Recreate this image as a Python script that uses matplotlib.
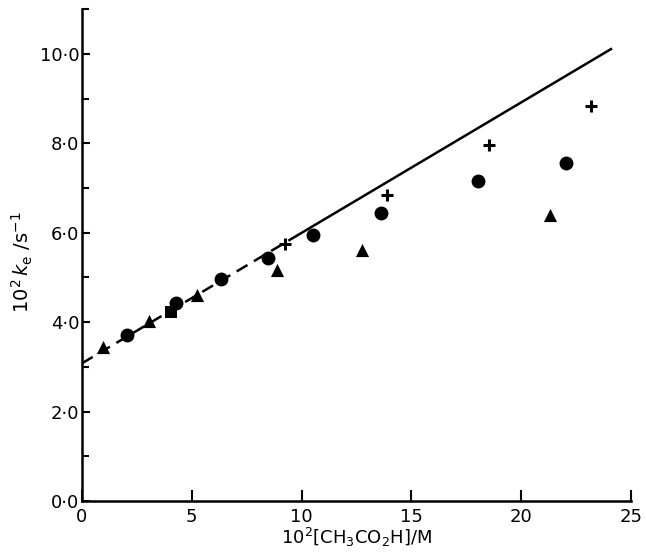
import numpy as np
import matplotlib
matplotlib.use("Agg")
import matplotlib.pyplot as plt
from matplotlib.ticker import FuncFormatter, MultipleLocator

# data
tri_x = [0.98, 3.05, 5.26, 8.89, 12.74, 21.3]
tri_y = [3.44, 4.03, 4.60, 5.16, 5.62, 6.40]

circ_x = [2.07, 4.29, 6.35, 8.46, 10.53, 13.63, 18.05, 22.03]
circ_y = [3.71, 4.43, 4.97, 5.44, 5.94, 6.44, 7.15, 7.56]

sq_x = [4.04]
sq_y = [4.23]

plus_x = [9.25, 13.91, 18.53, 23.16]
plus_y = [5.75, 6.85, 7.96, 8.83]

# limiting line (intercept, slope) and where dashed turns solid
fit_a = 3.08
fit_b = 0.2918
x_dash_end = 9.8
x_line_end = 24.09

x_ticks = [0, 5, 10, 15, 20, 25]
y_ticks = [0, 2, 4, 6, 8, 10]

plt.rcParams['font.family'] = ['DejaVu Sans']
plt.rcParams['mathtext.fontset'] = 'dejavusans'

fig = plt.figure(figsize=(6.46, 5.52), dpi=100)
ax = fig.add_axes([0.1269, 0.0924, 0.8498, 0.8908])

xd = np.array([0, x_dash_end])
xs = np.array([x_dash_end, x_line_end])
ax.plot(xd, fit_a + fit_b * xd, color='black', lw=1.8, ls=(0, (5, 3)), zorder=2)
ax.plot(xs, fit_a + fit_b * xs, color='black', lw=1.8, zorder=2)

ax.scatter(tri_x, tri_y, marker='^', s=90, color='black', zorder=3, linewidths=0)
ax.scatter(circ_x, circ_y, marker='o', s=100, color='black', zorder=3, linewidths=0)
ax.scatter(sq_x, sq_y, marker='s', s=75, color='black', zorder=3, linewidths=0)
ax.scatter(plus_x, plus_y, marker='+', s=80, color='black', zorder=3, linewidths=2.2)

ax.set_xlim(0, 25)
ax.set_ylim(0, 11)
ax.spines['top'].set_visible(False)
ax.spines['right'].set_visible(False)
ax.spines['left'].set_linewidth(1.8)
ax.spines['bottom'].set_linewidth(1.8)

ax.set_xticks(x_ticks)
ax.set_yticks(y_ticks)
ax.yaxis.set_minor_locator(MultipleLocator(1))
ax.yaxis.set_major_formatter(FuncFormatter(lambda v, p: f"{v:.1f}".replace('.', '\u00b7')))
ax.tick_params(axis='both', direction='in', width=1.5, labelsize=13)
ax.tick_params(axis='x', length=8, pad=5)
ax.tick_params(axis='y', which='major', length=6, pad=2)
ax.tick_params(axis='y', which='minor', direction='in', length=5, width=1.5)

ax.set_xlabel(r'$10^2$[CH$_3$CO$_2$H]/M', fontsize=13, labelpad=0)
ax.set_ylabel(r'$10^2\,k_{\rm e}\ /{\rm s}^{-1}$', fontsize=14)
ax.yaxis.set_label_coords(-0.085, 0.485)

fig.savefig('out.png', dpi=100)
